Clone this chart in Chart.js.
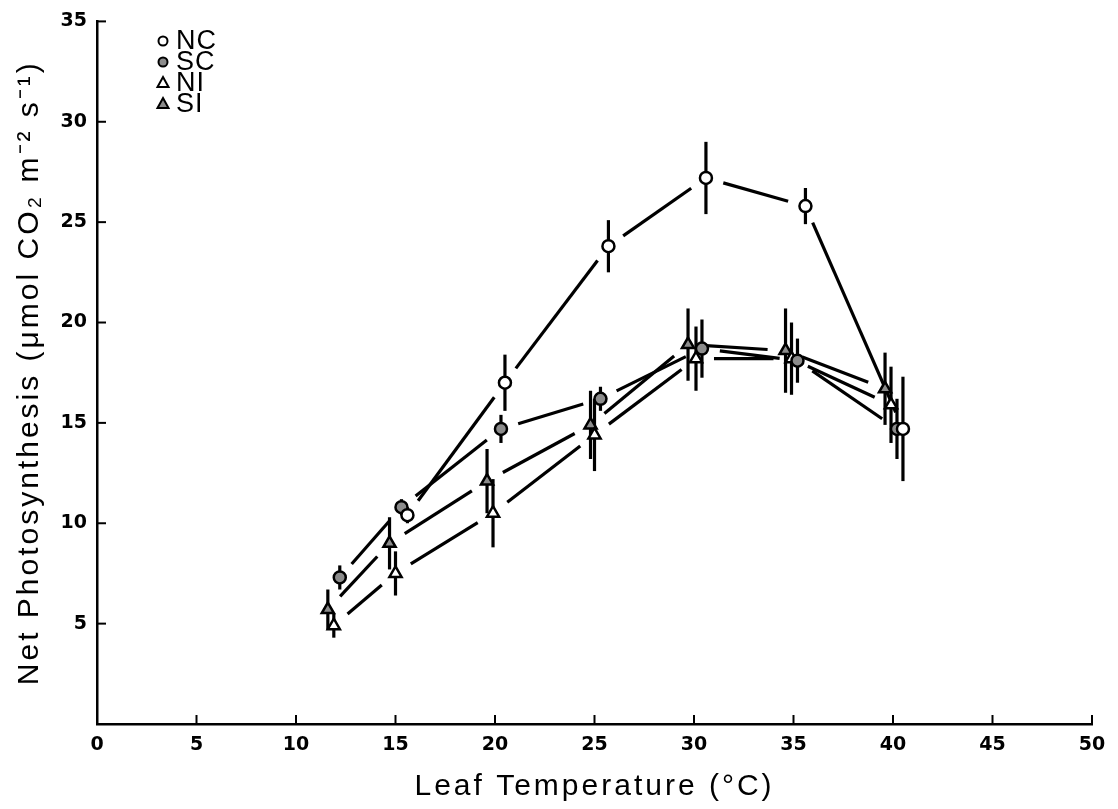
<!DOCTYPE html>
<html>
<head>
<meta charset="utf-8">
<script src="https://cdn.jsdelivr.net/npm/chart.js@4/dist/chart.umd.min.js"></script>
<style>
  html, body { margin: 0; padding: 0; background: #fff; }
</style>
</head>
<body>
<canvas id="chart" width="1118" height="809"></canvas>
<script>
// Leaf temperature (x, slightly offset per series as in the figure), rate and error half-length
const ncTemp = [15.6, 20.5, 25.7, 30.6, 35.6, 40.5];
const ncRate = [10.4, 17.0, 23.8, 27.2, 25.8, 14.7];
const ncErr  = [0.4, 1.4, 1.3, 1.8, 0.9, 2.6];

const scTemp = [12.2, 15.3, 20.3, 25.3, 30.4, 35.2, 40.2];
const scRate = [7.3, 10.8, 14.7, 16.2, 18.7, 18.1, 14.7];
const scErr  = [0.6, 0.4, 0.7, 0.6, 1.45, 1.1, 1.5];

const niTemp = [11.9, 15.0, 19.9, 25.0, 30.1, 34.9, 39.9];
const niRate = [4.9, 7.5, 10.5, 14.4, 18.2, 18.2, 15.9];
const niErr  = [0.6, 1.1, 1.7, 1.8, 1.6, 1.8, 1.9];

const siTemp = [11.6, 14.7, 19.6, 24.8, 29.7, 34.6, 39.6];
const siRate = [5.7, 9.0, 12.1, 14.9, 18.9, 18.6, 16.7];
const siErr  = [1.0, 1.3, 1.6, 1.7, 1.8, 2.1, 1.8];

const seriesNames = ["NC", "SC", "NI", "SI"];
const xTitle = "Leaf Temperature (°C)";
const yTitle = "Net Photosynthesis (μmol CO₂ m⁻² s⁻¹)";

const GRAY = "#8c8c8c";
const FONT = '"Liberation Sans", Arial, sans-serif';
const TICK_FONT = '"DejaVu Sans", sans-serif';

const toPoints = (xs, ys, es) => xs.map((x, i) => ({ x, y: ys[i], err: es[i] }));

const makeSet = (label, xs, ys, es, style, fill) => ({
  label,
  data: toPoints(xs, ys, es),
  pointStyle: style,
  pointRadius: style === "triangle" ? 7 : 6,
  pointBackgroundColor: fill,
  pointBorderColor: "#000",
  pointBorderWidth: 2.5,
  showLine: false,
});

// lines with gaps at the markers, error bars, inward ticks and the legend
const gapPx = 18;
const inkPlugin = {
  id: "ink",
  beforeDraw(chart) {
    // spaced-out axis titles, but tight tick numbers
    Object.values(chart.scales).forEach(s => {
      if (s._plainLabels) return;
      const orig = s.drawLabels.bind(s);
      s.drawLabels = area => {
        const old = s.ctx.letterSpacing;
        s.ctx.letterSpacing = "0px";
        orig(area);
        s.ctx.letterSpacing = old;
      };
      s._plainLabels = true;
    });
    chart.ctx.letterSpacing = "3px";
  },
  beforeDatasetsDraw(chart) {
    const { ctx, scales: { x, y }, chartArea } = chart;
    ctx.save();
    ctx.strokeStyle = "#000";
    ctx.lineWidth = 3.2;
    ctx.lineCap = "butt";
    chart.data.datasets.forEach((ds, i) => {
      const pts = chart.getDatasetMeta(i).data;
      for (let k = 0; k < pts.length - 1; k++) {
        const a = pts[k], b = pts[k + 1];
        const dx = b.x - a.x, dy = b.y - a.y;
        const len = Math.hypot(dx, dy);
        if (len < 2 * gapPx + 4) continue;
        const ux = dx / len, uy = dy / len;
        ctx.beginPath();
        ctx.moveTo(a.x + ux * gapPx, a.y + uy * gapPx);
        ctx.lineTo(b.x - ux * gapPx, b.y - uy * gapPx);
        ctx.stroke();
      }
      ds.data.forEach((d, k) => {
        const px = pts[k].x;
        ctx.beginPath();
        ctx.moveTo(px, y.getPixelForValue(d.y + d.err));
        ctx.lineTo(px, y.getPixelForValue(d.y - d.err));
        ctx.stroke();
      });
    });
    // small ticks pointing into the plot
    ctx.lineWidth = 2;
    x.ticks.forEach(t => {
      if (t.value === 0) return;
      const px = x.getPixelForValue(t.value);
      ctx.beginPath();
      ctx.moveTo(px, chartArea.bottom);
      ctx.lineTo(px, chartArea.bottom - 9);
      ctx.stroke();
    });
    y.ticks.forEach(t => {
      if (t.value === 0) return;
      const py = y.getPixelForValue(t.value);
      ctx.beginPath();
      ctx.moveTo(chartArea.left, py);
      ctx.lineTo(chartArea.left + 9, py);
      ctx.stroke();
    });
    ctx.restore();
  },
  afterDraw(chart) {
    const ctx = chart.ctx;
    ctx.save();
    ctx.letterSpacing = "1px";
    ctx.font = "27px " + FONT;
    ctx.textBaseline = "middle";
    ctx.fillStyle = "#000";
    chart.data.datasets.forEach((ds, i) => {
      const cx = 163, cy = 41 + i * 21;
      ctx.beginPath();
      if (ds.pointStyle === "triangle") {
        ctx.moveTo(cx, cy - 6);
        ctx.lineTo(cx + 5.5, cy + 4);
        ctx.lineTo(cx - 5.5, cy + 4);
        ctx.closePath();
      } else {
        ctx.arc(cx, cy, 4.5, 0, Math.PI * 2);
      }
      ctx.fillStyle = ds.pointBackgroundColor;
      ctx.fill();
      ctx.lineWidth = 2;
      ctx.strokeStyle = "#000";
      ctx.stroke();
      ctx.fillStyle = "#000";
      ctx.fillText(ds.label, 176, cy + 1);
    });
    ctx.restore();
  },
};

new Chart(document.getElementById("chart"), {
  type: "scatter",
  data: {
    datasets: [
      makeSet(seriesNames[0], ncTemp, ncRate, ncErr, "circle", "#fff"),
      makeSet(seriesNames[1], scTemp, scRate, scErr, "circle", GRAY),
      makeSet(seriesNames[2], niTemp, niRate, niErr, "triangle", "#fff"),
      makeSet(seriesNames[3], siTemp, siRate, siErr, "triangle", GRAY),
    ],
  },
  plugins: [inkPlugin],
  options: {
    responsive: false,
    animation: false,
    layout: { padding: { left: 0, right: 26, top: 18, bottom: 4 } },
    plugins: {
      legend: { display: false },
      tooltip: { enabled: false },
    },
    scales: {
      x: {
        type: "linear",
        min: 0,
        max: 50,
        afterFit: s => { s.height = 81; },
        ticks: {
          stepSize: 5,
          color: "#000",
          padding: 10,
          maxRotation: 0,
          font: { family: TICK_FONT, size: 19, weight: "bold" },
        },
        grid: { display: true, drawOnChartArea: false, drawTicks: false },
        border: { display: true, color: "#000", width: 2.5 },
        title: {
          display: true,
          text: xTitle,
          color: "#000",
          padding: { top: 0, bottom: 0 },
          font: { family: FONT, size: 30 },
        },
      },
      y: {
        type: "linear",
        min: 0,
        max: 35,
        afterFit: s => { s.width = 97; },
        ticks: {
          stepSize: 5,
          color: "#000",
          padding: 10,
          font: { family: TICK_FONT, size: 19, weight: "bold" },
          callback: v => (v === 0 ? "" : v),
        },
        grid: { display: true, drawOnChartArea: false, drawTicks: false },
        border: { display: true, color: "#000", width: 2.5 },
        title: {
          display: true,
          text: yTitle,
          color: "#000",
          padding: { top: 12, bottom: 0 },
          font: { family: FONT, size: 30 },
        },
      },
    },
  },
});
</script>
</body>
</html>
